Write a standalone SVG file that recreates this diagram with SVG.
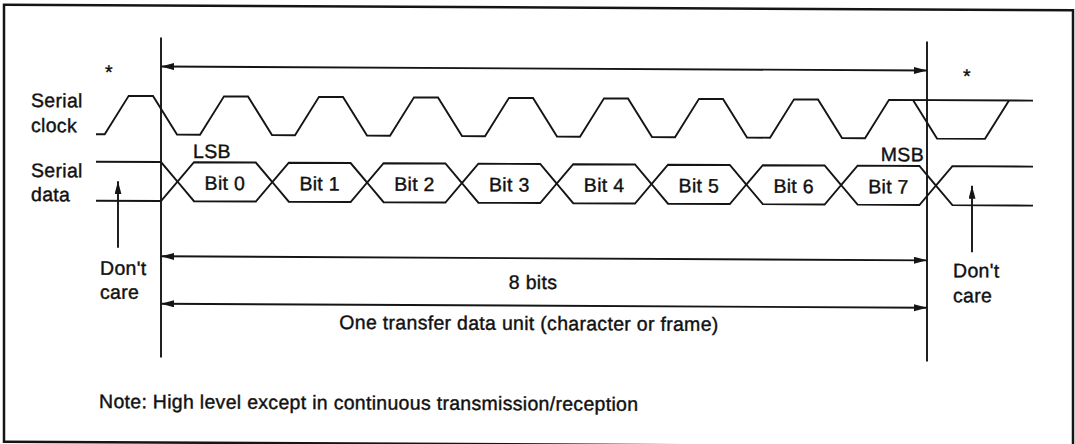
<svg xmlns="http://www.w3.org/2000/svg" width="1075" height="444" viewBox="0 0 1075 444">
<style>
.ln{fill:none;stroke:#151515;stroke-width:1.9;stroke-linejoin:miter}
.t{font-family:"Liberation Sans",Arial,Helvetica,sans-serif;font-size:19.5px;letter-spacing:0.3px;fill:#111;stroke:#111;stroke-width:0.4}
.m{text-anchor:middle}
.e{text-anchor:end}
</style>
<defs>
<marker id="ah" markerUnits="userSpaceOnUse" markerWidth="14" markerHeight="8" refX="13" refY="3.5" orient="auto-start-reverse" viewBox="0 0 14 8">
<path d="M0,0 L13,3.5 L0,7 z" fill="#151515"/>
</marker>
</defs>
<rect x="0" y="0" width="1075" height="444" fill="#fff"/>
<g transform="matrix(1,0.00524,0,1,0,-2.82)">
<rect id="frame" x="4" y="7.5" width="1069" height="437" fill="none" stroke="#151515" stroke-width="2.5"/>

<g id="boundaries">
<line class="ln" x1="161" y1="39.5" x2="161" y2="359.5"/>
<line class="ln" x1="927" y1="39.5" x2="927" y2="359.5"/>
</g>

<g id="signal-labels">
<text class="t" x="31" y="109.7">Serial</text>
<text class="t" x="31" y="134.7">clock</text>
<text class="t" x="31" y="179.7">Serial</text>
<text class="t" x="31" y="203.7">data</text>
</g>

<g id="asterisks">
<text class="t m" x="109" y="81">*</text>
<text class="t m" x="967" y="80.5">*</text>
</g>

<g id="serial-clock">
<path class="ln" d="M96,136.5 L104.7,136.5 L128.7,98 L153,98 L177,136.5 L200,136.5 L224,98 L248,98 L272,136.5 L295,136.5 L319,98 L343,98 L367,136.5 L390,136.5 L414,98 L438,98 L462,136.5 L485,136.5 L509,98 L533,98 L557,136.5 L580,136.5 L604,98 L628,98 L652,136.5 L675,136.5 L699,98 L723,98 L747,136.5 L770,136.5 L794,98 L818,98 L842,136.5 L865,136.5 L889,98 L1033,98"/>
<path class="ln" d="M913,98 L937,136.5 L985,136.5 L1009,98"/>
</g>

<g id="serial-data">
<path class="ln" d="M96,164 L161,164 L177.5,183.5 M96,203 L161,203 L177.5,183.5"/>
<polygon class="ln" points="177.5,183.5 194,164 255.8,164 272.3,183.5 255.8,203 194,203"/>
<polygon class="ln" points="272.3,183.5 288.8,164 350.6,164 367.1,183.5 350.6,203 288.8,203"/>
<polygon class="ln" points="367.1,183.5 383.6,164 445.4,164 461.9,183.5 445.4,203 383.6,203"/>
<polygon class="ln" points="461.9,183.5 478.4,164 540.2,164 556.7,183.5 540.2,203 478.4,203"/>
<polygon class="ln" points="556.7,183.5 573.2,164 635,164 651.5,183.5 635,203 573.2,203"/>
<polygon class="ln" points="651.5,183.5 668,164 729.8,164 746.3,183.5 729.8,203 668,203"/>
<polygon class="ln" points="746.3,183.5 762.8,164 824.6,164 841.1,183.5 824.6,203 762.8,203"/>
<polygon class="ln" points="841.1,183.5 857.6,164 919.4,164 935.9,183.5 919.4,203 857.6,203"/>
<path class="ln" d="M935.9,183.5 L952.4,164 L1033,164 M935.9,183.5 L952.4,203 L1033,203"/>
</g>

<g id="bit-labels">
<text class="t m" x="224.9" y="191.5">Bit 0</text>
<text class="t m" x="319.7" y="191.5">Bit 1</text>
<text class="t m" x="414.5" y="191.5">Bit 2</text>
<text class="t m" x="509.3" y="191.5">Bit 3</text>
<text class="t m" x="604.1" y="191.5">Bit 4</text>
<text class="t m" x="698.9" y="191.5">Bit 5</text>
<text class="t m" x="793.7" y="191.5">Bit 6</text>
<text class="t m" x="888.5" y="191.5">Bit 7</text>
<text class="t" x="193" y="159.7">LSB</text>
<text class="t e" x="924" y="159.3">MSB</text>
</g>

<g id="connectors">
<line class="ln" x1="161" y1="68.5" x2="927" y2="68.5" marker-start="url(#ah)" marker-end="url(#ah)"/>
<line class="ln" x1="161" y1="258.3" x2="927" y2="258.3" marker-start="url(#ah)" marker-end="url(#ah)"/>
<line class="ln" x1="161" y1="305.7" x2="927" y2="305.7" marker-start="url(#ah)" marker-end="url(#ah)"/>
<line class="ln" x1="118" y1="250" x2="118" y2="183.5" marker-end="url(#ah)"/>
<line class="ln" x1="972" y1="250" x2="972" y2="183.5" marker-end="url(#ah)"/>
</g>

<g id="dont-care-left">
<text class="t" x="100" y="277">Don't</text>
<text class="t" x="100" y="301">care</text>
</g>
<g id="dont-care-right">
<text class="t" x="953" y="275">Don't</text>
<text class="t" x="953" y="300">care</text>
</g>

<g id="dimension-labels">
<text class="t m" x="533" y="289">8 bits</text>
<text class="t m" x="529" y="330">One transfer data unit (character or frame)</text>
</g>

<g id="note">
<text class="t" x="99" y="410.3">Note: High level except in continuous transmission/reception</text>
</g>
</g>
</svg>
